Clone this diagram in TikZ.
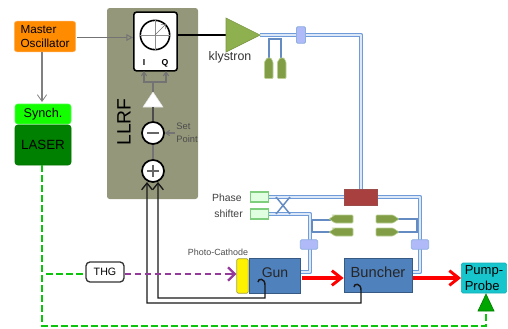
\documentclass[tikz,border=0pt]{standalone}
\usepackage{fontspec}
\setmainfont{Liberation Sans}
\usetikzlibrary{arrows.meta}
\definecolor{panel}{HTML}{94977A}
\definecolor{wgedge}{HTML}{6F9BD8}
\definecolor{wgfill}{HTML}{DCE8F8}
\definecolor{kgreen}{HTML}{8FB04F}
\definecolor{bluebox}{HTML}{4F81BD}
\definecolor{lgreen}{HTML}{0CC40C}
\definecolor{purp}{HTML}{943A9A}
\definecolor{ppc}{HTML}{17C5CC}
\tikzset{
  x=0.75pt,y=-0.75pt,
  lbl/.style={inner sep=0pt,font=\fontsize{7.5pt}{9pt}\selectfont},
  wgo/.style={draw=wgedge,line width=3.6pt,line join=round},
  wgi/.style={draw=wgfill,line width=1.2pt,line join=round},
  thinb/.style={draw=wgedge!90!black,line width=1.1pt},
  coup/.style={draw=wgedge!80,fill=blue!20!wgfill,rounded corners=1pt,line width=.6pt},
  load/.style={draw=kgreen!60,fill=kgreen!90!black,line width=.5pt,rounded corners=.6pt},
  ps/.style={draw=green!45!gray!70,fill=green!12,line width=.8pt},
  cav/.style={draw=bluebox!70!black,fill=bluebox,line width=.6pt},
  sumc/.style={draw=black,fill=white,line width=1.3pt,circle,minimum size=16.5pt,inner sep=0pt},
  fb/.style={draw=black!90,line width=1.1pt},
  fbtip/.style={-{Straight Barb[length=5pt,width=8pt,line width=1pt]}},
  gdash/.style={draw=lgreen,line width=2.2pt,dash pattern=on 5pt off 2.5pt},
  beam/.style={draw=red,line width=2.6pt,-{Straight Barb[length=7pt,width=11pt,line width=2.2pt]}},
  thinl/.style={draw=black!55,line width=.8pt}
}
\newcommand{\wg}[1]{\draw[wgo] #1; \draw[wgi] #1;}
\begin{document}
\begin{tikzpicture}
\useasboundingbox (0,0) rectangle (508,329);
% LLRF panel
\node[draw=none,fill=panel,rounded corners=2pt,minimum width=68.25pt,minimum height=143.25pt,inner sep=0pt] (llrf) at (152.5,103.5) {};
\node[rotate=90,inner sep=0pt,font=\fontsize{14.5pt}{16pt}\selectfont] (llrft) at (124,122) {LLRF};
% Left boxes
\node[fill=orange!90!yellow,draw=orange!60,rounded corners=2pt,minimum width=46pt,minimum height=23pt,inner sep=0pt,align=left,font=\fontsize{8.8pt}{11pt}\selectfont] (mo) at (45,36.5) {Master\\Oscillator};
\node[fill=green!90!lime,draw=green!70,rounded corners=2pt,minimum width=42pt,minimum height=15pt,inner sep=0pt,font=\fontsize{9.5pt}{11pt}\selectfont] (syn) at (43,114) {Synch.};
\node[fill=green!50!black,draw=green!45!black,rounded corners=2pt,minimum width=42pt,minimum height=30pt,inner sep=0pt,font=\fontsize{10pt}{12pt}\selectfont] (las) at (43,145) {LASER};
% Module
\node[draw=black,fill=white,rounded corners=2pt,line width=1.2pt,minimum width=32.5pt,minimum height=44pt,inner sep=0pt] (mod) at (155.5,41.5) {};
\node[circle,draw=black,line width=1.2pt,minimum size=22pt,inner sep=0pt] (dial) at (155,35) {};
\draw[draw=black!45,line width=.7pt] (dial.north) -- (dial.south) (dial.west) -- (dial.east);
\draw[draw=black!55,line width=.5pt,-{Straight Barb[length=2.5pt]}] (dial.center) -- (dial.north east);
\node[lbl,font=\bfseries\fontsize{6.5pt}{8pt}\selectfont] (il) at (144,63) {I};
\node[lbl,font=\bfseries\fontsize{6.5pt}{8pt}\selectfont] (ql) at (165,63) {Q};
% Small amp and summers
\coordinate (a1) at (153,92); \coordinate (a2) at (143,107); \coordinate (a3) at (163,107);
\draw[fill=white,draw=white!90!black] (a1) -- (a2) -- (a3) -- cycle;
\node[sumc] (minus) at (153,133) {};
\draw[black!60,line width=.8pt] (147,133) -- (159,133);
\node[sumc] (plus) at (153,171) {};
\draw[black!60,line width=.8pt] (147,171) -- (159,171) (153,165) -- (153,177);
\node[lbl,align=left,font=\fontsize{7pt}{10pt}\selectfont,text=black!70] (setp) at (187,133) {Set\\Point};
\draw[thinl,-{Straight Barb[length=3pt,width=4pt]}] (setp.west) ++(-1,0) -- (minus.east);
\draw[thinl,draw=black!70] (a1) ++(0,15) -- (minus.north);
\draw[thinl] (plus.north) -- (minus.south);
\draw[thinl,-{Straight Barb[length=3pt,width=4pt]}] (153,92) -- (153,82) -| (144,71);
\draw[thinl,-{Straight Barb[length=3pt,width=4pt]}] (153,82) -| (166,71);
% MO links
\draw[thinl,-{Triangle[open,length=5pt,width=5pt]}] (mo.east) ++(1,1) -- (mod.west |- 37.5,37.5);
\draw[draw=black!50,line width=.8pt,-{Straight Barb[length=5pt,width=7pt,line width=.6pt]}] (42,52) -- (42,102);
% Klystron
\coordinate (k1) at (226,18); \coordinate (k2) at (226,52); \coordinate (k3) at (260,35);
\draw[black,line width=1.1pt] (mod.east |- 35,35) -- (226,35);
% waveguides
\wg{(260,35) -- (361,35) -- (361,190)}
\draw[fill=kgreen,draw=kgreen!85!black,line width=.5pt] (k1) -- (k2) -- (k3) -- cycle;
\node[lbl,text=black!80,font=\fontsize{9.3pt}{10pt}\selectfont] (kl) at (230,57) {klystron};
\node[coup,minimum width=6.8pt,minimum height=12.5pt,inner sep=0pt] (c0) at (301,35) {};
\draw[thinb] (269,58) -- (269,39) -- (281,39) -- (281,58);
\draw[load] (264.5,78.5) -- (264.5,62) -- (267,58) -- (271,58) -- (273,62) -- (273,78.5) -- cycle;
\draw[load] (277.5,78.5) -- (277.5,62) -- (280,58) -- (284,58) -- (286,62) -- (286,78.5) -- cycle;
% Distribution
\wg{(269,197) -- (420,197) -- (420,272) -- (412,272)}
\wg{(269,214) -- (310,214) -- (310,272) -- (301,272)}
\draw[thinb] (276,197) -- (290,214) (276,214) -- (290,197);
\draw[thinb] (312,220) -- (312,232) (312,220) -- (331,220) (312,232) -- (331,232);
\draw[thinb] (397,219) -- (417,219) -- (417,232) -- (397,232);
\foreach \yy in {219,232}{
  \draw[load] (331,\yy-4) -- (353,\yy-4) -- (353,\yy+4) -- (335,\yy+4) -- (329,\yy) -- (335,\yy-4) -- cycle;
  \draw[load] (376,\yy-4) -- (393,\yy-4) -- (399,\yy) -- (393,\yy+4) -- (376,\yy+4) -- cycle;
}
\node[coup,minimum width=13pt,minimum height=7.2pt,inner sep=0pt] (c1) at (309,244.5) {};
\node[coup,minimum width=13pt,minimum height=7.2pt,inner sep=0pt] (c2) at (420,244.5) {};
\node[draw=red!45!black!70,fill=red!55!black!75,minimum width=25pt,minimum height=12.5pt,inner sep=0pt,line width=.6pt] (rb) at (361,197.5) {};
\node[ps,minimum width=14pt,minimum height=7.5pt,inner sep=0pt] (ps1) at (259.5,197) {};
\node[ps,minimum width=14pt,minimum height=7.5pt,inner sep=0pt] (ps2) at (259.5,214) {};
\node[lbl,text=black!75,font=\fontsize{7.8pt}{9pt}\selectfont,anchor=east] (phl) at (242,198) {Phase};
\node[lbl,text=black!75,font=\fontsize{7.8pt}{9pt}\selectfont,anchor=east] (shl) at (243,214) {shifter};
% Cavities
\node[draw=yellow!60!black,fill=yellow,rounded corners=1pt,minimum width=8.5pt,minimum height=26pt,inner sep=0pt,line width=.6pt] (cath) at (242.5,276) {};
\node[cav,minimum width=38.5pt,minimum height=26pt,inner sep=0pt,font=\fontsize{10.5pt}{12pt}\selectfont,text=black!85] (gun) at (275,276) {\raisebox{5pt}{Gun}};
\node[cav,minimum width=51pt,minimum height=25.5pt,inner sep=0pt,font=\fontsize{11pt}{12pt}\selectfont,text=black!85] (bun) at (378,275) {\raisebox{4.5pt}{Buncher}};
\node[fill=ppc,draw=ppc!90!black,rounded corners=1pt,minimum width=34pt,minimum height=22.5pt,inner sep=0pt,align=left,font=\fontsize{9.8pt}{11.5pt}\selectfont] (pp) at (484,278) {Pump-\\Probe};
\node[lbl,text=black!70,font=\fontsize{6.7pt}{7pt}\selectfont] (pc) at (218,252) {Photo-Cathode};
\node[draw=black!80,fill=white,rounded corners=3pt,line width=1pt,minimum width=28.5pt,minimum height=15pt,inner sep=0pt,font=\fontsize{8pt}{10pt}\selectfont] (thg) at (105,272) {THG};
% Beam
\draw[beam] (gun.east |- 0,278) ++(1,0) -- (bun.west |- 0,278);
\draw[beam] (bun.east |- 0,278) ++(1,0) -- (pp.west |- 0,278);
% Feedback
\draw[fb,fbtip] (258,282) .. controls (258,278) and (265,278) .. (265,285) -- (265,298) -- (158,298) -- (158,182);
\draw[fb,fbtip] (354,287) .. controls (354,283) and (361,283) .. (361,290) -- (361,303) -- (147,303) -- (147,182);
% Dashed links
\draw[draw=purp,line width=2.2pt,dash pattern=on 5pt off 2.5pt] (thg.east |- 0,274) -- (230,274);
\draw[draw=purp,line width=2.2pt,-{Straight Barb[length=5pt,width=10pt,line width=1.8pt]}] (226,274) -- (cath.west |- 0,274);
\draw[gdash] (42,165) -- (42,326) -- (486,326) -- (486,311);
\draw[gdash] (46,274) -- (thg.west |- 0,274);
\draw[draw=green!50!black,fill=green!65!black,line width=.5pt] (486,294) -- (478,311) -- (494,311) -- cycle;
\end{tikzpicture}
\end{document}
